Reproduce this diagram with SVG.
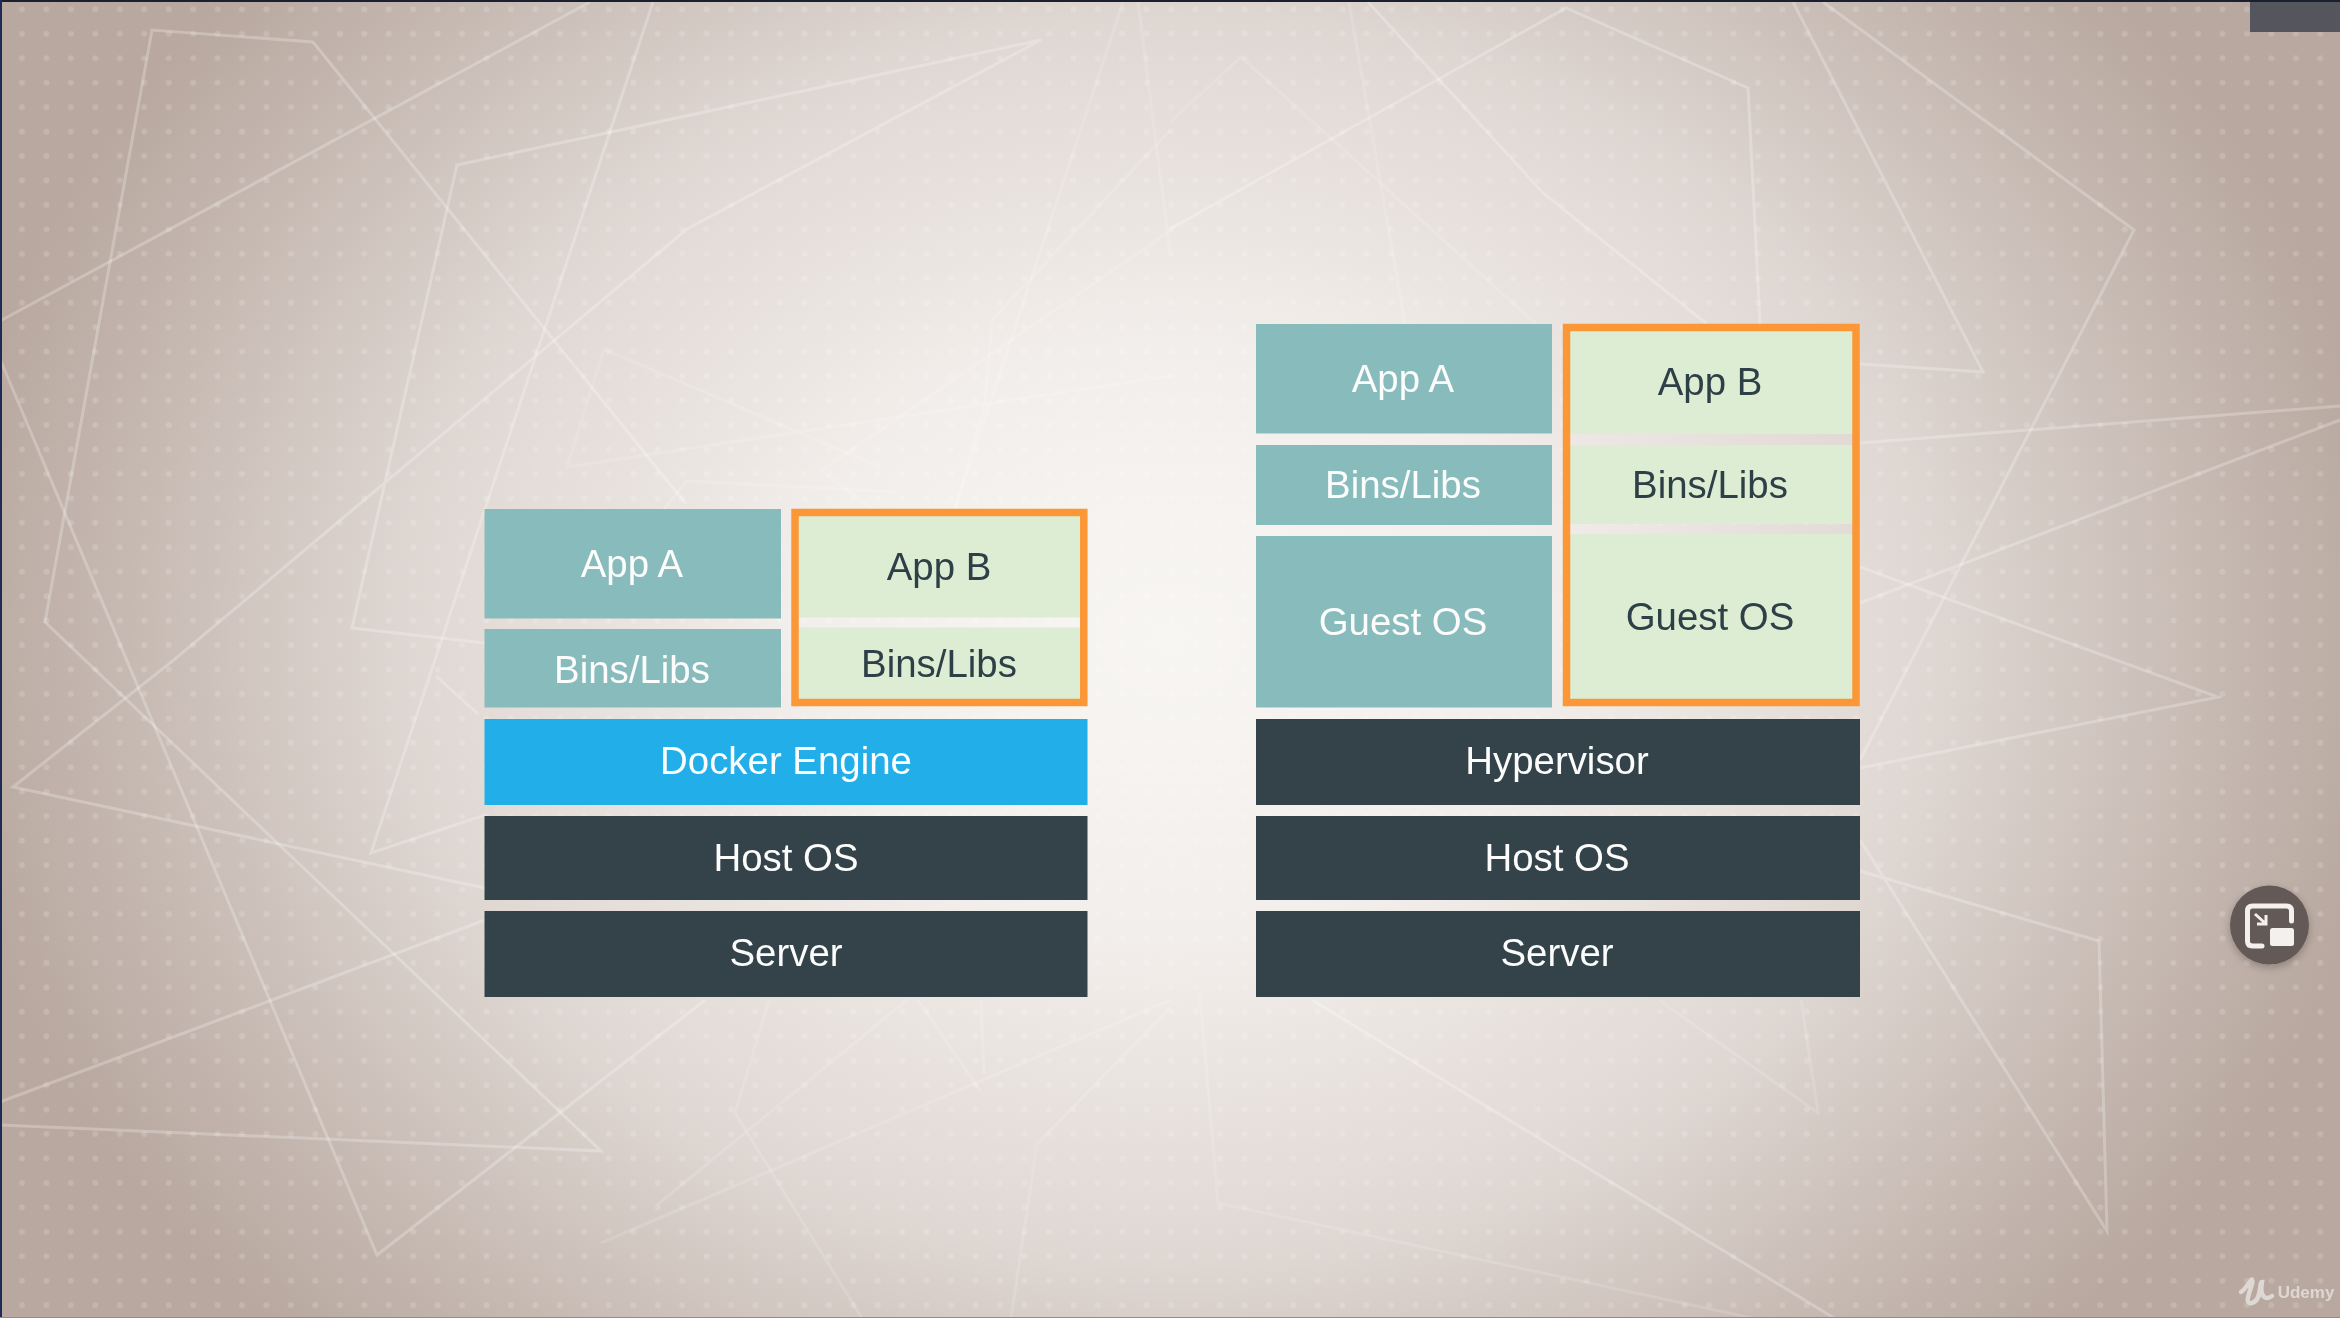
<svg xmlns="http://www.w3.org/2000/svg" width="2340" height="1318" viewBox="0 0 2340 1318">
<style>
text{font-family:"Liberation Sans",Arial,sans-serif;font-size:38.4px;text-anchor:middle}
.w{fill:#fbfcfb}.d{fill:#2f3f46}
.teal{fill:#88bcbc}.green{fill:#dcedd3}.blue{fill:#22aee8}.dark{fill:#344349}
.orange{fill:none;stroke:#fb9737;stroke-width:7.5}
#lines polyline{fill:none;stroke:#fff;stroke-opacity:.24;stroke-width:3}
#lines polyline.f{stroke-opacity:.13}
</style>
<defs>
<radialGradient id="bg" gradientUnits="userSpaceOnUse" cx="0" cy="0" r="1" gradientTransform="translate(1170 640) scale(1230 1000)">
<stop offset="0" stop-color="#f8f6f3"/><stop offset=".3" stop-color="#f2eeeb"/><stop offset=".62" stop-color="#dfd7d2"/><stop offset=".85" stop-color="#c6b9b2"/><stop offset="1" stop-color="#b8a89f"/>
</radialGradient>
<pattern id="dots" patternUnits="userSpaceOnUse" x="9.8" y="-2.9" width="24.45" height="24.45">
<circle cx="12.2" cy="12.2" r="3" fill="#fff" fill-opacity=".16"/>
</pattern>
<filter id="soft" x="-5%" y="-20%" width="110%" height="140%"><feGaussianBlur stdDeviation=".45"/></filter>
<filter id="blurline" filterUnits="userSpaceOnUse" x="0" y="0" width="2340" height="1318"><feGaussianBlur stdDeviation=".7"/></filter>
<filter id="shadow" x="-30%" y="-30%" width="160%" height="160%"><feDropShadow dx="0" dy="3" stdDeviation="4" flood-color="#000" flood-opacity=".25"/></filter>
</defs>
<rect width="2340" height="1318" fill="url(#bg)"/>
<rect width="2340" height="1318" fill="url(#dots)"/>
<g id="lines" filter="url(#blurline)">
<polyline points="313,42 152,30 45,622 601,1151 0,1125"/>
<polyline points="313,42 686,504"/>
<polyline points="0,321 590,2"/>
<polyline points="0,359 377,1255 705,1000"/>
<polyline points="0,1102 485,920"/>
<polyline points="485,888 13,787 175,659 687,229 1041,40 457,165 352,628 485,643"/>
<polyline points="653,2 371,853 485,815"/>
<polyline points="436,676 478,714"/>
<polyline class="f" points="880,467 604,349 567,467 1170,376"/>
<polyline class="f" points="664,509 687,481 895,492"/>
<polyline class="f" points="1123,2 955,509"/>
<polyline class="f" points="1138,2 1170,252"/>
<polyline class="f" points="1170,130 992,320 985,404 955,509"/>
<polyline class="f" points="1170,231 821,471 873,509"/>
<polyline class="f" points="1349,2 1405,324"/>
<polyline points="1368,2 1543,193 1707,324"/>
<polyline points="1170,229 1566,8 1748,88 1760,324"/>
<polyline class="f" points="1170,122 1241,57 1536,324"/>
<polyline points="1793,2 1983,372 1860,364"/>
<polyline points="1823,2 2134,230 1860,760"/>
<polyline points="2340,406 1860,443"/>
<polyline points="2340,420 1860,603"/>
<polyline points="1860,567 2218,697 1860,768"/>
<polyline points="1860,840 2107,1231 2099,941 1860,871"/>
<polyline class="f" points="1801,1000 1818,1113 1659,1000"/>
<polyline points="1312,1000 1834,1318"/>
<polyline class="f" points="1200,995 1218,1203 1752,1318"/>
<polyline class="f" points="769,1000 735,1113 862,1318"/>
<polyline class="f" points="1170,1000 601,1243"/>
<polyline class="f" points="907,1000 657,1205"/>
<polyline class="f" points="918,1000 981,1092"/>
<polyline class="f" points="981,1000 984,1075"/>
<polyline class="f" points="1170,1008 1037,1144 1011,1318"/>
</g>
<rect x="2250" y="0" width="90" height="32" fill="#55555e"/>
<rect width="2340" height="2" fill="#1b2030"/>
<rect width="2" height="1318" fill="#1d2c55"/>
<rect y="1317" width="2340" height="1" fill="#8d8d94"/>

<g id="left-app-a"><rect class="teal" x="484.5" y="509" width="296.5" height="109.500"/><text class="w" filter="url(#soft)" x="632" y="576.500">App A</text></g>
<g id="left-bins-a"><rect class="teal" x="484.5" y="629" width="296.500" height="78.500"/><text class="w" filter="url(#soft)" x="632" y="682.500">Bins/Libs</text></g>
<g id="left-app-b"><rect class="green" x="795" y="512" width="289" height="105.500"/><text class="d" filter="url(#soft)" x="939" y="580">App B</text></g>
<g id="left-bins-b"><rect class="green" x="795" y="627.500" width="289" height="75"/><text class="d" filter="url(#soft)" x="939" y="676.500">Bins/Libs</text></g>
<rect id="left-highlight" class="orange" x="795" y="512.500" width="288.800" height="190"/>
<g id="docker-engine"><rect class="blue" x="484.5" y="719" width="603" height="86"/><text class="w" filter="url(#soft)" x="786" y="774">Docker Engine</text></g>
<g id="left-host-os"><rect class="dark" x="484.5" y="816" width="603" height="84"/><text class="w" filter="url(#soft)" x="786" y="871">Host OS</text></g>
<g id="left-server"><rect class="dark" x="484.5" y="911" width="603" height="86"/><text class="w" filter="url(#soft)" x="786" y="965.500">Server</text></g>

<g id="right-app-a"><rect class="teal" x="1256" y="324" width="296" height="109.500"/><text class="w" filter="url(#soft)" x="1403" y="391.500">App A</text></g>
<g id="right-bins-a"><rect class="teal" x="1256" y="445" width="296" height="80"/><text class="w" filter="url(#soft)" x="1403" y="497.500">Bins/Libs</text></g>
<g id="right-guest-a"><rect class="teal" x="1256" y="536" width="296" height="171.500"/><text class="w" filter="url(#soft)" x="1403" y="634.500">Guest OS</text></g>
<g id="right-app-b"><rect class="green" x="1566" y="327" width="290" height="107"/><text class="d" filter="url(#soft)" x="1710" y="395">App B</text></g>
<g id="right-bins-b"><rect class="green" x="1566" y="445" width="290" height="79"/><text class="d" filter="url(#soft)" x="1710" y="497.500">Bins/Libs</text></g>
<g id="right-guest-b"><rect class="green" x="1566" y="534" width="290" height="168"/><text class="d" filter="url(#soft)" x="1710" y="630">Guest OS</text></g>
<rect id="right-highlight" class="orange" x="1566.500" y="327.500" width="289.500" height="375"/>
<g id="hypervisor"><rect class="dark" x="1256" y="719" width="604" height="86"/><text class="w" filter="url(#soft)" x="1557" y="774">Hypervisor</text></g>
<g id="right-host-os"><rect class="dark" x="1256" y="816" width="604" height="84"/><text class="w" filter="url(#soft)" x="1557" y="871">Host OS</text></g>
<g id="right-server"><rect class="dark" x="1256" y="911" width="604" height="86"/><text class="w" filter="url(#soft)" x="1557" y="965.500">Server</text></g>

<g id="pip-button">
<circle cx="2269.500" cy="925" r="39.500" fill="#635a59" filter="url(#shadow)"/>
<path d="M2291.500,921 V911 Q2291.500,906 2286.500,906 H2252.500 Q2247.500,906 2247.500,911 V941 Q2247.500,946 2252.500,946 H2262" fill="none" stroke="#f3f0ee" stroke-width="5" stroke-linecap="round"/>
<rect x="2270" y="928" width="24" height="18" rx="2.500" fill="#f3f0ee"/>
<path d="M2255,914 L2265,923 M2266,915 V924 H2257" fill="none" stroke="#f3f0ee" stroke-width="3"/>
</g>
<g id="udemy-logo">
<path d="M2241,1292 C2247,1288 2252,1277 2252,1280 C2255,1283 2241,1305 2252,1303 C2262,1301 2259,1282 2262,1282 C2260,1293 2263,1302 2272,1296" fill="none" stroke="#ded8d4" stroke-width="4.500" stroke-linecap="round"/>
<text x="2306" y="1298" filter="url(#soft)" style="font-size:17px;font-weight:bold;fill:#ded8d4">Udemy</text>
</g>
</svg>
